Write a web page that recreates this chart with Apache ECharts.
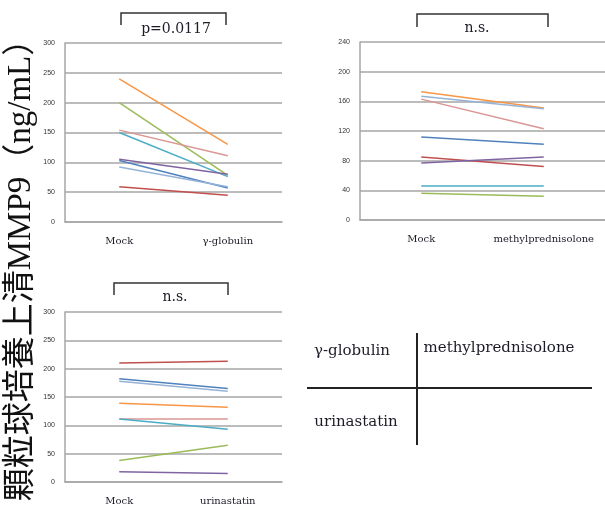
<!DOCTYPE html>
<html><head><meta charset="utf-8">
<script src="https://cdn.jsdelivr.net/npm/echarts@6/dist/echarts.min.js"></script>
<style>html,body{margin:0;padding:0;background:#fff}#c{width:605px;height:508px}</style>
</head><body><div id="c"></div>
<script>
// ---- data ----
const catsGamma = ['Mock', 'γ-globulin'];
const catsMethyl = ['Mock', 'methylprednisolone'];
const catsUrin = ['Mock', 'urinastatin'];

const gammaMock    = [240, 200, 154, 150, 105, 103, 92, 59];
const gammaTreated = [130,  78, 111,  76,  80,  57, 59, 45];

const methylMock    = [173, 167, 163, 112, 85, 77, 46, 36];
const methylTreated = [151, 150, 123, 102, 72, 85, 46, 32];

const urinMock    = [210, 182, 178, 139, 111, 111, 38, 18];
const urinTreated = [213, 165, 160, 132, 111,  93, 65, 15];

const ticks300 = [0, 50, 100, 150, 200, 250, 300];
const ticks240 = [0, 40, 80, 120, 160, 200, 240];

const yTitle = '顆粒球培養上清MMP9（ng/mL）';
const pGamma = 'p=0.0117';
const pMethyl = 'n.s.';
const pUrin = 'n.s.';
const tableLabels = ['γ-globulin', 'methylprednisolone', 'urinastatin'];

// ---- styles ----
const gammaColors  = ['#F79646', '#9BBB59', '#D99694', '#4BACC6', '#8064A2', '#4F81BD', '#95B3D7', '#C0504D'];
const methylColors = ['#F79646', '#95B3D7', '#D99694', '#4F81BD', '#C0504D', '#8064A2', '#4BACC6', '#9BBB59'];
const urinColors   = ['#C0504D', '#4F81BD', '#95B3D7', '#F79646', '#D99694', '#4BACC6', '#9BBB59', '#8064A2'];

const SERIF = '"DejaVu Serif", "Liberation Serif", serif';
const TXT = '#1c1c28';
const GRID = '#a6a6a6';

const chart = echarts.init(document.getElementById('c'), null, {renderer: 'canvas'});

function xAx(idx, cats) {
  return {
    type: 'category', gridIndex: idx, data: cats, boundaryGap: true,
    axisLine: {show: true, lineStyle: {color: GRID, width: 1.5}},
    axisTick: {show: false},
    axisLabel: {fontFamily: SERIF, fontSize: 10, color: TXT, margin: 14, interval: 0}
  };
}
function yAx(idx, ticks) {
  return {
    type: 'value', gridIndex: idx, min: ticks[0], max: ticks[ticks.length - 1],
    interval: ticks[1] - ticks[0],
    axisLine: {show: true, lineStyle: {color: GRID, width: 1.5}},
    axisTick: {show: false},
    splitLine: {show: true, lineStyle: {color: GRID, width: 1.5}},
    axisLabel: {fontFamily: 'Liberation Sans, sans-serif', fontSize: 7, color: '#333', margin: 10}
  };
}
function lines(idx, a, b, colors) {
  return a.map((v, i) => ({
    type: 'line', xAxisIndex: idx, yAxisIndex: idx, data: [v, b[i]],
    symbol: 'none', silent: true,
    lineStyle: {color: colors[i], width: 1.5}
  }));
}
function bracket(x1, x2, y1, y2) {
  return {type: 'polyline', shape: {points: [[x1, y2], [x1, y1], [x2, y1], [x2, y2]]},
          style: {stroke: '#333', lineWidth: 1.5, fill: null}};
}
function txt(x, y, s, size, extra) {
  return Object.assign({type: 'text', x: x, y: y,
    style: {text: s, fontFamily: SERIF, fontSize: size, fill: TXT, align: 'center', verticalAlign: 'middle'}}, extra || {});
}

chart.setOption({
  animation: false,
  grid: [
    {left: 65, top: 43, width: 217, height: 179},
    {left: 360, top: 42, width: 247, height: 178},
    {left: 65, top: 312, width: 217, height: 170}
  ],
  xAxis: [xAx(0, catsGamma), xAx(1, catsMethyl), xAx(2, catsUrin)],
  yAxis: [yAx(0, ticks300), yAx(1, ticks240), yAx(2, ticks300)],
  series: [].concat(
    lines(0, gammaMock, gammaTreated, gammaColors),
    lines(1, methylMock, methylTreated, methylColors),
    lines(2, urinMock, urinTreated, urinColors)
  ),
  graphic: [
    bracket(121, 226, 13, 25),
    txt(176, 29, pGamma, 14),
    bracket(417, 548, 14, 27),
    txt(477, 28, pMethyl, 14),
    bracket(114, 228, 283, 295),
    txt(175, 297, pUrin, 14),
    {type: 'text', x: 21, y: 262, rotation: Math.PI / 2,
     style: {text: yTitle, fontFamily: '"Liberation Serif", "Noto Sans CJK JP", serif', fontSize: 33,
             fill: '#111', align: 'center', verticalAlign: 'middle'}},
    {type: 'line', shape: {x1: 307, y1: 388, x2: 592, y2: 388}, style: {stroke: '#222', lineWidth: 2}},
    {type: 'line', shape: {x1: 417, y1: 333, x2: 417, y2: 445}, style: {stroke: '#222', lineWidth: 2}},
    txt(352, 351, tableLabels[0], 15),
    txt(499, 348, tableLabels[1], 15),
    txt(356, 422, tableLabels[2], 15)
  ]
});
</script></body></html>
